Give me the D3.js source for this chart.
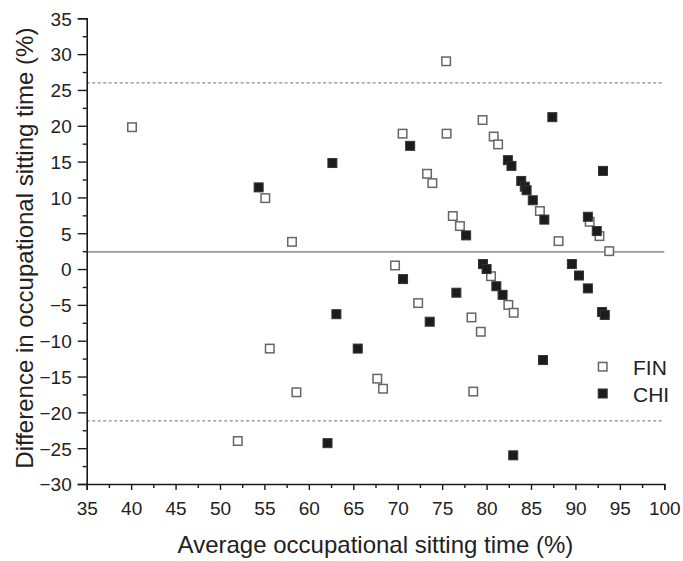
<!DOCTYPE html>
<html>
<head>
<meta charset="utf-8">
<script src="https://cdn.jsdelivr.net/npm/d3@7"></script>
<style>
  body { margin: 0; background: #fff; }
  svg { display: block; }
  svg text { font-family: Arial, "Liberation Sans", sans-serif; }
</style>
</head>
<body>
<svg id="chart" width="683" height="561"></svg>
<script>
// FIN (open squares)
const finAvg  = [40.1, 55.1, 58.1, 55.6, 58.6, 52.0, 75.45, 75.5, 70.55, 73.3, 73.9, 76.2, 77.0, 69.7, 72.3,
                 67.7, 68.35, 78.3, 79.35, 78.5, 79.55, 80.8, 81.3, 80.5, 82.45, 83.05, 86.0, 88.1, 91.6, 92.7, 93.8];
const finDiff = [19.8, 9.9, 3.8, -11.1, -17.2, -24.0, 29.0, 18.9, 18.9, 13.3, 12.0, 7.4, 6.0, 0.5, -4.75,
                 -15.3, -16.7, -6.75, -8.75, -17.1, 20.8, 18.5, 17.4, -1.0, -5.0, -6.1, 8.1, 3.9, 6.6, 4.6, 2.5];

// CHI (filled squares)
const chiAvg  = [54.35, 62.65, 62.1, 63.1, 65.5, 71.4, 70.6, 73.6, 76.6, 77.7, 79.6, 80.0, 81.1, 81.8, 82.4, 82.8,
                 83.9, 84.3, 84.5, 85.2, 86.5, 87.4, 93.1, 91.4, 92.4, 89.6, 90.4, 91.4, 93.0, 93.3, 86.35, 83.0];
const chiDiff = [11.4, 14.8, -24.3, -6.3, -11.1, 17.2, -1.4, -7.35, -3.3, 4.7, 0.7, 0.0, -2.4, -3.6, 15.2, 14.4,
                 12.3, 11.5, 11.0, 9.6, 6.9, 21.2, 13.7, 7.3, 5.3, 0.7, -0.9, -2.7, -6.0, -6.4, -12.7, -26.0];

// Bland-Altman lines
const meanDiff = 2.4;
const limits = [26.0, -21.2];

const xTicks = d3.range(35, 101, 5);
const yTicks = d3.range(-30, 36, 5);

const svg = d3.select('#chart');
const x = d3.scaleLinear().domain([35, 100]).range([86.7, 664.3]);
const y = d3.scaleLinear().domain([-30, 35]).range([484, 18.3]);

const textCol = '#222';
const sq = 10;

// reference lines
svg.append('line')
  .attr('x1', x(35)).attr('x2', x(100))
  .attr('y1', y(meanDiff)).attr('y2', y(meanDiff))
  .attr('stroke', '#9a9a9a').attr('stroke-width', 1.6);

svg.selectAll('.lim').data(limits).enter().append('line')
  .attr('class', 'lim')
  .attr('x1', x(35)).attr('x2', x(100))
  .attr('y1', d => y(d)).attr('y2', d => y(d))
  .attr('stroke', '#8a8a8a').attr('stroke-width', 1.2)
  .attr('stroke-dasharray', '3,2.5');

// axes
const xAxis = svg.append('g').attr('transform', `translate(0,${y(-30)})`)
  .call(d3.axisBottom(x).tickValues(xTicks).tickSize(6).tickPadding(12).tickFormat(d3.format('d')));
const xMinor = svg.append('g').attr('transform', `translate(0,${y(-30)})`)
  .call(d3.axisBottom(x).tickValues(d3.range(37.5, 100, 5)).tickSize(4).tickFormat(''));
const yAxis = svg.append('g').attr('transform', `translate(${x(35)},0)`)
  .call(d3.axisLeft(y).tickValues(yTicks).tickSize(9).tickPadding(6).tickFormat(d3.format('d')));
const yMinor = svg.append('g').attr('transform', `translate(${x(35)},0)`)
  .call(d3.axisLeft(y).tickValues(d3.range(-27.5, 35, 5)).tickSize(4).tickFormat(''));

[xAxis, xMinor, yAxis, yMinor].forEach(a => {
  a.attr('font-family', null).attr('font-size', null);
  a.select('.domain').attr('stroke', '#1a1a1a').attr('stroke-width', 1.6);
  a.selectAll('.tick line').attr('stroke', '#1a1a1a').attr('stroke-width', 1.4);
  a.selectAll('.tick text').attr('fill', textCol).style('font-size', '19px');
});
xMinor.select('.domain').remove();
yMinor.select('.domain').remove();
yAxis.selectAll('.tick text').attr('dy', '0.36em');

// points: FIN first, CHI drawn on top
svg.append('g').selectAll('rect').data(finAvg).enter().append('rect')
  .attr('x', (d, i) => x(d) - (sq - 1.5) / 2)
  .attr('y', (d, i) => y(finDiff[i]) - (sq - 1.5) / 2)
  .attr('width', sq - 1.5).attr('height', sq - 1.5)
  .attr('fill', '#fff').attr('stroke', '#666').attr('stroke-width', 1.5);

svg.append('g').selectAll('rect').data(chiAvg).enter().append('rect')
  .attr('x', (d, i) => x(d) - (sq - 1) / 2)
  .attr('y', (d, i) => y(chiDiff[i]) - (sq - 1) / 2)
  .attr('width', sq - 1).attr('height', sq - 1)
  .attr('fill', '#1c1c1c').attr('stroke', '#333').attr('stroke-width', 1);

// legend
const legend = svg.append('g');
legend.append('rect')
  .attr('x', 602.7 - (sq - 1.5) / 2).attr('y', 366.7 - (sq - 1.5) / 2)
  .attr('width', sq - 1.5).attr('height', sq - 1.5)
  .attr('fill', '#fff').attr('stroke', '#666').attr('stroke-width', 1.5);
legend.append('rect')
  .attr('x', 602.7 - (sq - 1) / 2).attr('y', 393.5 - (sq - 1) / 2)
  .attr('width', sq - 1).attr('height', sq - 1)
  .attr('fill', '#1c1c1c').attr('stroke', '#333').attr('stroke-width', 1);
legend.append('text').attr('x', 633).attr('y', 374.5).text('FIN')
  .attr('fill', textCol).style('font-size', '21px');
legend.append('text').attr('x', 633).attr('y', 401.5).text('CHI')
  .attr('fill', textCol).style('font-size', '21px');

// axis titles
svg.append('text')
  .attr('x', (x(35) + x(100)) / 2).attr('y', 552.5)
  .attr('text-anchor', 'middle')
  .attr('fill', textCol).style('font-size', '24px')
  .text('Average occupational sitting time (%)');

svg.append('text')
  .attr('transform', `translate(33,${(y(35) + y(-30)) / 2 - 3}) rotate(-90)`)
  .attr('text-anchor', 'middle')
  .attr('fill', textCol).style('font-size', '24px')
  .text('Difference in occupational sitting time (%)');
</script>
</body>
</html>
